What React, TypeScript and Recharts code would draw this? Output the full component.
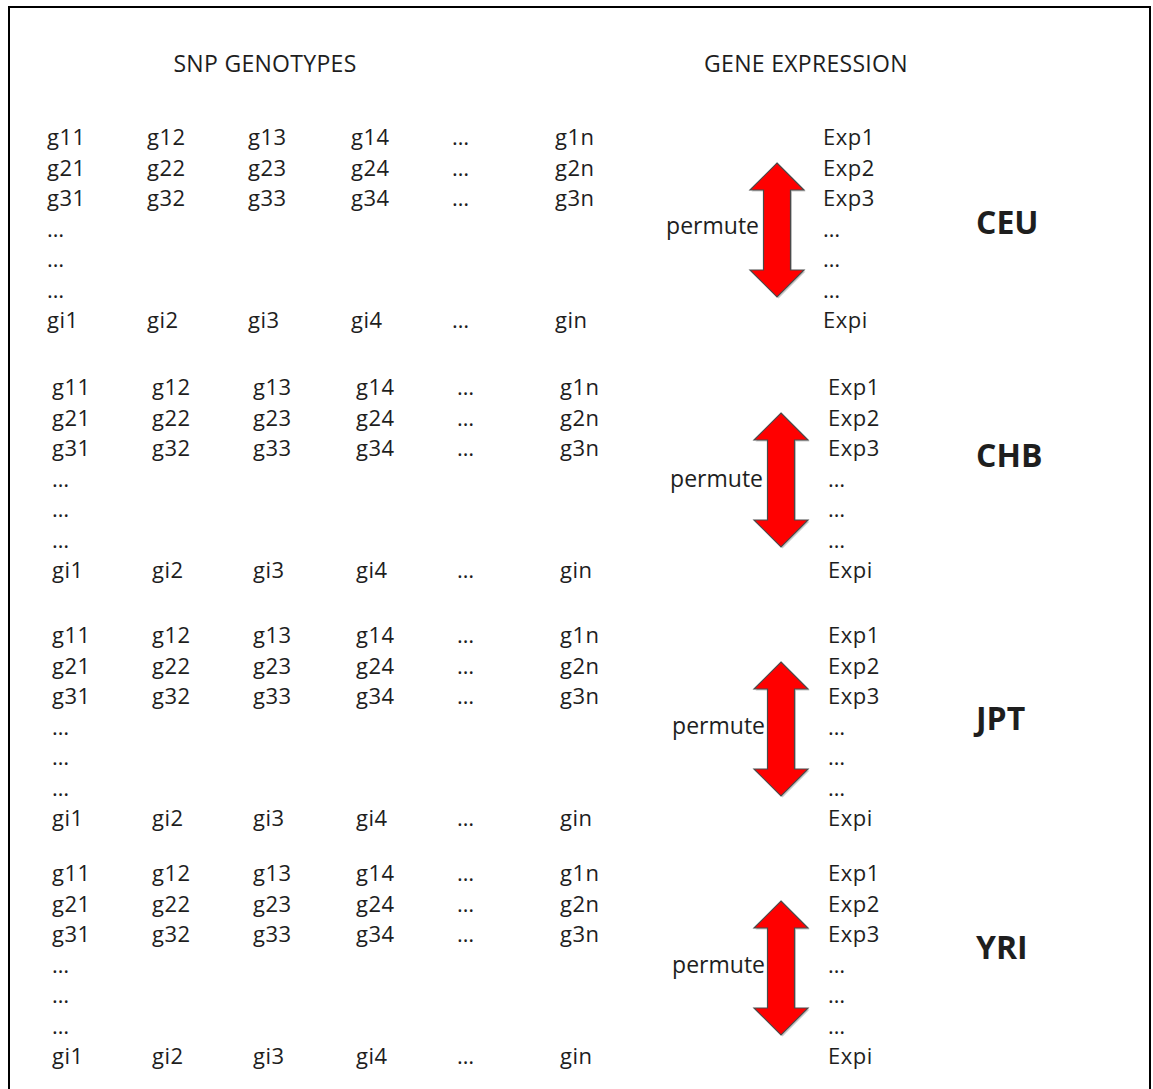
import React from 'react';
import { ScatterChart, Scatter, XAxis, YAxis, ReferenceArea } from 'recharts';

// ---------- content ----------
const populations = ['CEU', 'CHB', 'JPT', 'YRI'];
const snpColumns = ['1', '2', '3', '4', '…', 'n'];
const genotypeRows = ['1', '2', '3', '…', '…', '…', 'i'];
const expressionRows = ['Exp1', 'Exp2', 'Exp3', '…', '…', '…', 'Expi'];
const sectionHeaders = ['SNP GENOTYPES', 'GENE EXPRESSION'];
const actionLabel = 'permute';

// ---------- layout (chart units = pixels) ----------
const W = 1153;
const H = 1089;
const COL_X = [47, 147, 248, 351, 452, 555];
const EXP_X = 823;
const BLOCK_BASE = [145, 395, 643, 881];
const BLOCK_SHIFT = [0, 5, 5, 5];
const ROW_STEP = 30.5;
const POP_X = 976;
const POP_Y = [234, 467, 730, 959];
const HEADER_X = [265, 806];
const HEADER_Y = 72;
const PERMUTE_X = [759, 763, 765, 765];
const PERMUTE_Y = [234, 487, 734, 973];
const ARROW_X = [777, 781, 781, 781];
const ARROW_TOP = [163, 413, 662, 901];
const ARROW_H = 134;
const ARROW_HALF = 27;

const FONT = "'Open Sans', 'DejaVu Sans', sans-serif";
const TEXT_COLOR = '#1e1e1e';

// ---------- derived tables ----------
type Mark = { x: number; y: number; label: string };

const genotypeCells: Mark[] = [];
const expressionCells: Mark[] = [];
populations.forEach((_, b) => {
  genotypeRows.forEach((row, r) => {
    const y = BLOCK_BASE[b] + r * ROW_STEP;
    snpColumns.forEach((col, c) => {
      let label = '';
      if (row === '…') label = c === 0 ? '…' : '';
      else if (col === '…') label = '…';
      else label = 'g' + row + col;
      if (label) genotypeCells.push({ x: COL_X[c] + BLOCK_SHIFT[b], y, label });
    });
    expressionCells.push({ x: EXP_X + BLOCK_SHIFT[b], y, label: expressionRows[r] });
  });
});

const headerMarks: Mark[] = sectionHeaders.map((h, i) => ({ x: HEADER_X[i], y: HEADER_Y, label: h }));
const permuteMarks: Mark[] = populations.map((_, b) => ({ x: PERMUTE_X[b], y: PERMUTE_Y[b], label: actionLabel }));
const popMarks: Mark[] = populations.map((p, b) => ({ x: POP_X, y: POP_Y[b], label: p }));

const makeText = (size: number, anchor: string, weight: string | number = 'normal', spacing = 0) => (props: any) => {
  const { cx, cy, payload } = props;
  return (
    <text
      x={cx}
      y={cy}
      textAnchor={anchor}
      fontFamily={FONT}
      fontSize={size}
      fontWeight={weight}
      letterSpacing={spacing}
      fill={TEXT_COLOR}
    >
      {payload.label}
    </text>
  );
};

const Arrow = (props: any) => {
  const { x, y, width, height } = props;
  const cx = x + width / 2;
  const hw = width / 2;
  const sw = 13.5;
  const hh = 27;
  const pts = (dx: number, dy: number) =>
    [
      [cx, y],
      [cx + hw, y + hh],
      [cx + sw, y + hh],
      [cx + sw, y + height - hh],
      [cx + hw, y + height - hh],
      [cx, y + height],
      [cx - hw, y + height - hh],
      [cx - sw, y + height - hh],
      [cx - sw, y + hh],
      [cx - hw, y + hh],
    ]
      .map(([a, b]) => `${a + dx},${b + dy}`)
      .join(' ');
  return (
    <g>
      <polygon points={pts(1.5, 1.5)} fill="#9a9a9a" opacity={0.55} />
      <polygon points={pts(0, 0)} fill="#ff0000" stroke="#4a4a4a" strokeWidth={1.2} strokeLinejoin="miter" />
    </g>
  );
};

export default function App() {
  return (
    <div
      style={{
        position: 'absolute',
        left: 0,
        top: 0,
        width: W,
        height: H,
        overflow: 'hidden',
        background: '#ffffff',
      }}
    >
      <div
        style={{
          position: 'absolute',
          left: 8,
          top: 6,
          width: 1143,
          height: H + 20,
          border: '2px solid #000',
          boxSizing: 'border-box',
        }}
      />
      <div style={{ position: 'absolute', left: 0, top: 0 }}>
        <ScatterChart width={W} height={H} margin={{ top: 0, right: 0, bottom: 0, left: 0 }}>
          <XAxis type="number" dataKey="x" domain={[0, W]} hide allowDataOverflow />
          <YAxis type="number" dataKey="y" domain={[0, H]} hide reversed allowDataOverflow />
          {populations.map((p, b) => (
            <ReferenceArea
              key={p}
              x1={ARROW_X[b] - ARROW_HALF}
              x2={ARROW_X[b] + ARROW_HALF}
              y1={ARROW_TOP[b]}
              y2={ARROW_TOP[b] + ARROW_H}
              shape={Arrow}
              ifOverflow="visible"
            />
          ))}
          <Scatter data={headerMarks} shape={makeText(23, 'middle', 'normal', 0.3)} isAnimationActive={false} />
          <Scatter data={genotypeCells} shape={makeText(22, 'start', 'normal', 0.5)} isAnimationActive={false} />
          <Scatter data={expressionCells} shape={makeText(22, 'start', 'normal', 0.5)} isAnimationActive={false} />
          <Scatter data={permuteMarks} shape={makeText(23, 'end')} isAnimationActive={false} />
          <Scatter data={popMarks} shape={makeText(32, 'start', 700)} isAnimationActive={false} />
        </ScatterChart>
      </div>
    </div>
  );
}
